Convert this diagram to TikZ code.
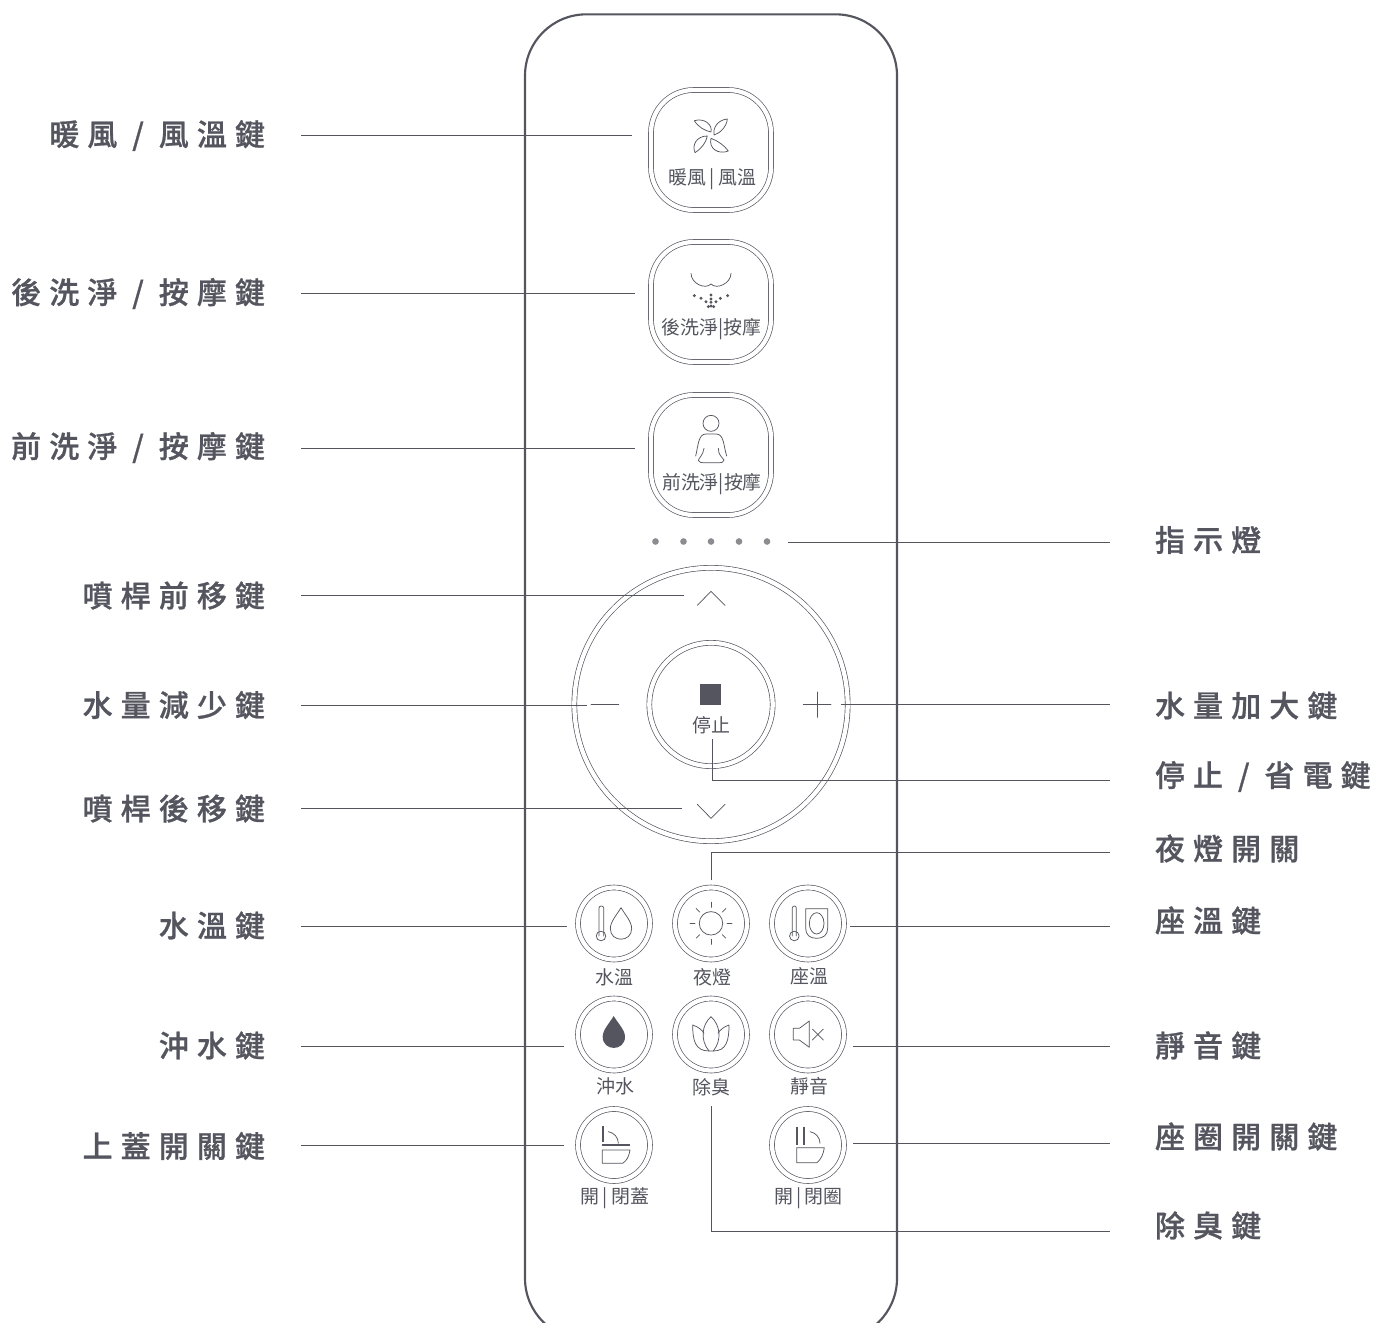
\documentclass[tikz,border=0pt]{standalone}
\usepackage{fontspec}
\newfontfamily\cjk{Noto Sans CJK TC}
\newfontfamily\cjklab[LetterSpace=27,FakeBold=0.8]{Noto Sans CJK TC Medium}
\definecolor{ink}{HTML}{54555E}
\definecolor{dotc}{HTML}{8C8C90}
\tikzset{
  every node/.style={inner sep=0pt,outer sep=0pt,text=ink},
  conn/.style={draw=ink,line width=.75pt},
  icon/.style={draw=ink,line width=.55pt,line cap=round,line join=round},
  thick icon/.style={draw=ink,line width=1.3pt},
  sq btn/.style={draw=ink,line width=.5pt,double=white,double distance=3.2pt,rounded corners=32pt,minimum width=90pt,minimum height=90pt},
  rd btn/.style={circle,draw=ink,line width=.5pt,double=white,double distance=3.2pt},
  small btn/.style={rd btn,minimum size=54pt},
  sm text/.style={font=\cjk\fontsize{14.2pt}{16pt}\selectfont},
  big text/.style={font=\cjklab\fontsize{22.5pt}{26pt}\selectfont},
  lamp/.style={circle,fill=dotc,minimum size=5pt},
  left lab/.style={big text,anchor=east},
  right lab/.style={big text,anchor=west},
  z1/.style={shift={(630,70)},x=.25pt,y=-.25pt},
  z2/.style={shift={(630,380)},x=.25pt,y=-.25pt},
  z3/.style={shift={(560,870)},x=.25pt,y=-.25pt},
  z4/.style={shift={(560,990)},x=.25pt,y=-.25pt},
  z5/.style={shift={(560,1100)},x=.25pt,y=-.25pt},
  z6/.style={shift={(560,560)},x=.25pt,y=-.25pt},
}
\begin{document}
\begin{tikzpicture}[x=.75pt,y=-.75pt]
\clip[use as bounding box] (0,0) rectangle (1374,1323);
\fill[white] (0,0) rectangle (1374,1323);
% body
\node[draw=ink,line width=1.6pt,rounded corners=46pt,minimum width=279pt,minimum height=994pt] (body) at (711,677) {};
% square buttons
\node[sq btn] (fan) at (711,150) {};
\node[sq btn] (rear) at (711,302) {};
\node[sq btn] (front) at (711,455) {};
\node[sm text] (tfan) at (712.5,179.5) {暖風\,|\,風溫};
\node[sm text] (trear) at (711.5,329.5) {後洗淨|按摩};
\node[sm text] (tfront) at (712,484.5) {前洗淨|按摩};
% lamps
\node[lamp] (d1) at (655.5,541.5) {};
\node[lamp] (d2) at (683.5,541.5) {};
\node[lamp] (d3) at (711,541.5) {};
\node[lamp] (d4) at (739,541.5) {};
\node[lamp] (d5) at (767,541.5) {};
% ring
\node[rd btn,minimum size=205pt] (ring) at (711,704.5) {};
\node[rd btn,minimum size=92.5pt] (stop) at (711,704.5) {};
\node[sm text] (tstop) at (711.5,725.5) {停止};
% small buttons
\node[small btn] (bw) at (614,923.5) {};
\node[small btn] (bn) at (711,923.5) {};
\node[small btn] (bs) at (808,923.5) {};
\node[small btn] (bf) at (614,1034.5) {};
\node[small btn] (bd) at (711,1034.5) {};
\node[small btn] (bm) at (808,1034.5) {};
\node[small btn] (bl) at (614,1145) {};
\node[small btn] (br) at (808,1145) {};
\node[sm text] (tw) at (614,977.5) {水溫};
\node[sm text] (tn) at (712,977.5) {夜燈};
\node[sm text] (ts) at (809,976.5) {座溫};
\node[sm text] (tf) at (615,1086.5) {沖水};
\node[sm text] (td) at (711.5,1087) {除臭};
\node[sm text] (tm) at (809,1086.5) {靜音};
\node[sm text] (tl) at (615,1198.5) {開\,|\,閉蓋};
\node[sm text] (tr) at (808.5,1198.5) {開\,|\,閉圈};
% icons
\begin{scope}[z1]
 \path[icon] (193,152) .. controls (225,143) and (248,165) .. (243,186) .. controls (225,182) and (205,172) .. cycle;
 \path[icon] (292,147) .. controls (262,150) and (248,175) .. (252,195) .. controls (270,190) and (290,170) .. cycle;
 \path[icon] (295,243) .. controls (265,255) and (235,235) .. (243,205) .. controls (262,212) and (282,225) .. cycle;
 \path[icon] (195,248) .. controls (185,225) and (200,198) .. (232,198) .. controls (228,218) and (215,235) .. cycle;
 \path[icon] (183,610) .. controls (183,640) and (225,660) .. (243,642) .. controls (260,660) and (303,640) .. (303,610);
 \foreach \p/\r in {193/677,293/677,213/685,271/685,243/675,243/687,243/697,243/708,228/695,258/695,235/710,251/710}
   \fill[ink] (\p,\r) circle[radius=1.2pt];
\end{scope}
\begin{scope}[z2]
 \path[icon] (243,130) circle[radius=6pt];
 \path[icon] (197,228) .. controls (205,195) and (205,162) .. (228,162) -- (258,162) .. controls (282,162) and (280,195) .. (290,228);
 \path[icon] (222,205) .. controls (220,225) and (205,235) .. (205,242) .. controls (207,248) and (215,248) .. (225,248) -- (262,248) .. controls (275,248) and (282,248) .. (282,240) .. controls (275,230) and (265,225) .. (265,205);
\end{scope}
\begin{scope}[z3]
 % thermometer + drop
 \path[icon] (117,198) -- (117,114) .. controls (117,106) and (131,106) .. (131,114) -- (131,198);
 \path[icon] (123,198) circle[radius=3.6pt];
 \path[icon] (183,113) .. controls (170,135) and (151,155) .. (151,176) .. controls (151,218) and (215,218) .. (215,176) .. controls (215,155) and (196,135) .. cycle;
 % sun
 \path[icon] (453,160) circle[radius=8.8pt];
 \foreach \a in {0,45,...,315}
   \path[icon] (453,160) ++(\a:48*.25pt) -- ++(\a:15*.25pt);
 % seat
 \path[icon] (697,198) -- (697,114) .. controls (697,106) and (709,106) .. (709,114) -- (709,198);
 \path[icon] (703,198) circle[radius=3.6pt];
 \path[icon] (737,116) -- (803,116) -- (803,175) .. controls (803,195) and (790,205) .. (770,205) .. controls (750,205) and (737,195) .. (737,175) -- cycle;
 \path[icon] (770,160) ellipse[x radius=5.5pt,y radius=8pt];
\end{scope}
\begin{scope}[z4]
 \fill[ink] (161,78) .. controls (148,100) and (128,120) .. (128,140) .. controls (128,185) and (195,185) .. (195,140) .. controls (195,120) and (174,100) .. cycle;
 % lotus
 \path[icon] (453,80) .. controls (425,105) and (420,150) .. (447,183) -- (460,183) .. controls (486,150) and (481,105) .. cycle;
 \path[icon] (432,130) .. controls (428,122) and (415,110) .. (398,105) .. controls (398,150) and (405,183) .. (447,183);
 \path[icon] (474,130) .. controls (478,122) and (491,110) .. (507,105) .. controls (507,150) and (500,183) .. (460,183);
 % speaker
 \path[icon] (748,93) -- (748,172) -- (718,150) -- (700,150) -- (700,115) -- (718,115) -- cycle;
 \path[icon] (757,117) -- (790,150) (790,117) -- (757,150);
\end{scope}
\begin{scope}[z5]
 \path[thick icon] (128,78) -- (128,125);
 \path[icon] (145,95) .. controls (162,98) and (175,112) .. (175,130);
 \path[thick icon] (126,135) -- (211,135);
 \path[icon] (127,150) -- (210,150) .. controls (207,170) and (200,182) .. (188,190) -- (127,190) -- cycle;
 \path[thick icon] (710,80) -- (710,135) (733,80) -- (733,135);
 \path[icon] (750,95) .. controls (767,98) and (780,112) .. (780,130);
 \path[icon] (710,143) -- (793,143) .. controls (790,163) and (783,178) .. (771,188) -- (710,188) -- cycle;
\end{scope}
\begin{scope}[z6]
 \path[icon] (412,136) -- (453,94) -- (495,136);
 \path[icon] (412,733) -- (453,775) -- (495,733);
 \path[icon] (93,434) -- (176,434);
 \path[icon] (730,434) -- (813,434) (772,396) -- (772,472);
 \fill[ink] (420,372) rectangle (483,435);
\end{scope}
% left labels
\node[left lab] (l1) at (265,135.5) {暖風 / 風溫鍵};
\node[left lab] (l2) at (265,293.5) {後洗淨 / 按摩鍵};
\node[left lab] (l3) at (265,447.5) {前洗淨 / 按摩鍵};
\node[left lab] (l4) at (265,595.5) {噴桿前移鍵};
\node[left lab] (l5) at (265,705) {水量減少鍵};
\node[left lab] (l6) at (265,808.5) {噴桿後移鍵};
\node[left lab] (l7) at (265,925.5) {水溫鍵};
\node[left lab] (l8) at (265,1045.5) {沖水鍵};
\node[left lab] (l9) at (265,1146) {上蓋開關鍵};
% right labels
\node[right lab] (r1) at (1155,540) {指示燈};
\node[right lab] (r2) at (1155,705.5) {水量加大鍵};
\node[right lab] (r3) at (1155,776.5) {停止 / 省電鍵};
\node[right lab] (r4) at (1155,848.5) {夜燈開關};
\node[right lab] (r5) at (1155,920.5) {座溫鍵};
\node[right lab] (r6) at (1155,1045.5) {靜音鍵};
\node[right lab] (r7) at (1155,1136.5) {座圈開關鍵};
\node[right lab] (r8) at (1155,1225.5) {除臭鍵};
% connector ends
\coordinate (a1) at (301,136);  \coordinate (b1) at (632,136);
\coordinate (a2) at (301,293.5);\coordinate (b2) at (635,293.5);
\coordinate (a3) at (301,448);  \coordinate (b3) at (635,448);
\coordinate (a4) at (301,595.5);\coordinate (b4) at (684,595.5);
\coordinate (a5) at (301,705);  \coordinate (b5) at (587,705);
\coordinate (a6) at (301,808);  \coordinate (b6) at (682,808);
\coordinate (a7) at (301,926);  \coordinate (b7) at (567,926);
\coordinate (a8) at (301,1046); \coordinate (b8) at (564,1046);
\coordinate (a9) at (301,1145); \coordinate (b9) at (564,1145);
\coordinate (c1) at (788,542);  \coordinate (e1) at (1110,542);
\coordinate (c2) at (841,704);  \coordinate (e2) at (1110,704);
\coordinate (c3) at (712.5,739);\coordinate (e3) at (1110,780);
\coordinate (c4) at (711,880);  \coordinate (e4) at (1110,852);
\coordinate (c5) at (850,926);  \coordinate (e5) at (1110,926);
\coordinate (c6) at (853,1046); \coordinate (e6) at (1110,1046);
\coordinate (c7) at (853,1143); \coordinate (e7) at (1110,1143);
\coordinate (c8) at (711,1106); \coordinate (e8) at (1110,1231);
\foreach \i in {1,...,9} \draw[conn] (a\i) -- (b\i);
\draw[conn] (c1) -- (e1);
\draw[conn] (c2) -- (e2);
\draw[conn] (c3) |- (e3);
\draw[conn] (c4) |- (e4);
\draw[conn] (c5) -- (e5);
\draw[conn] (c6) -- (e6);
\draw[conn] (c7) -- (e7);
\draw[conn] (c8) |- (e8);
\end{tikzpicture}
\end{document}
